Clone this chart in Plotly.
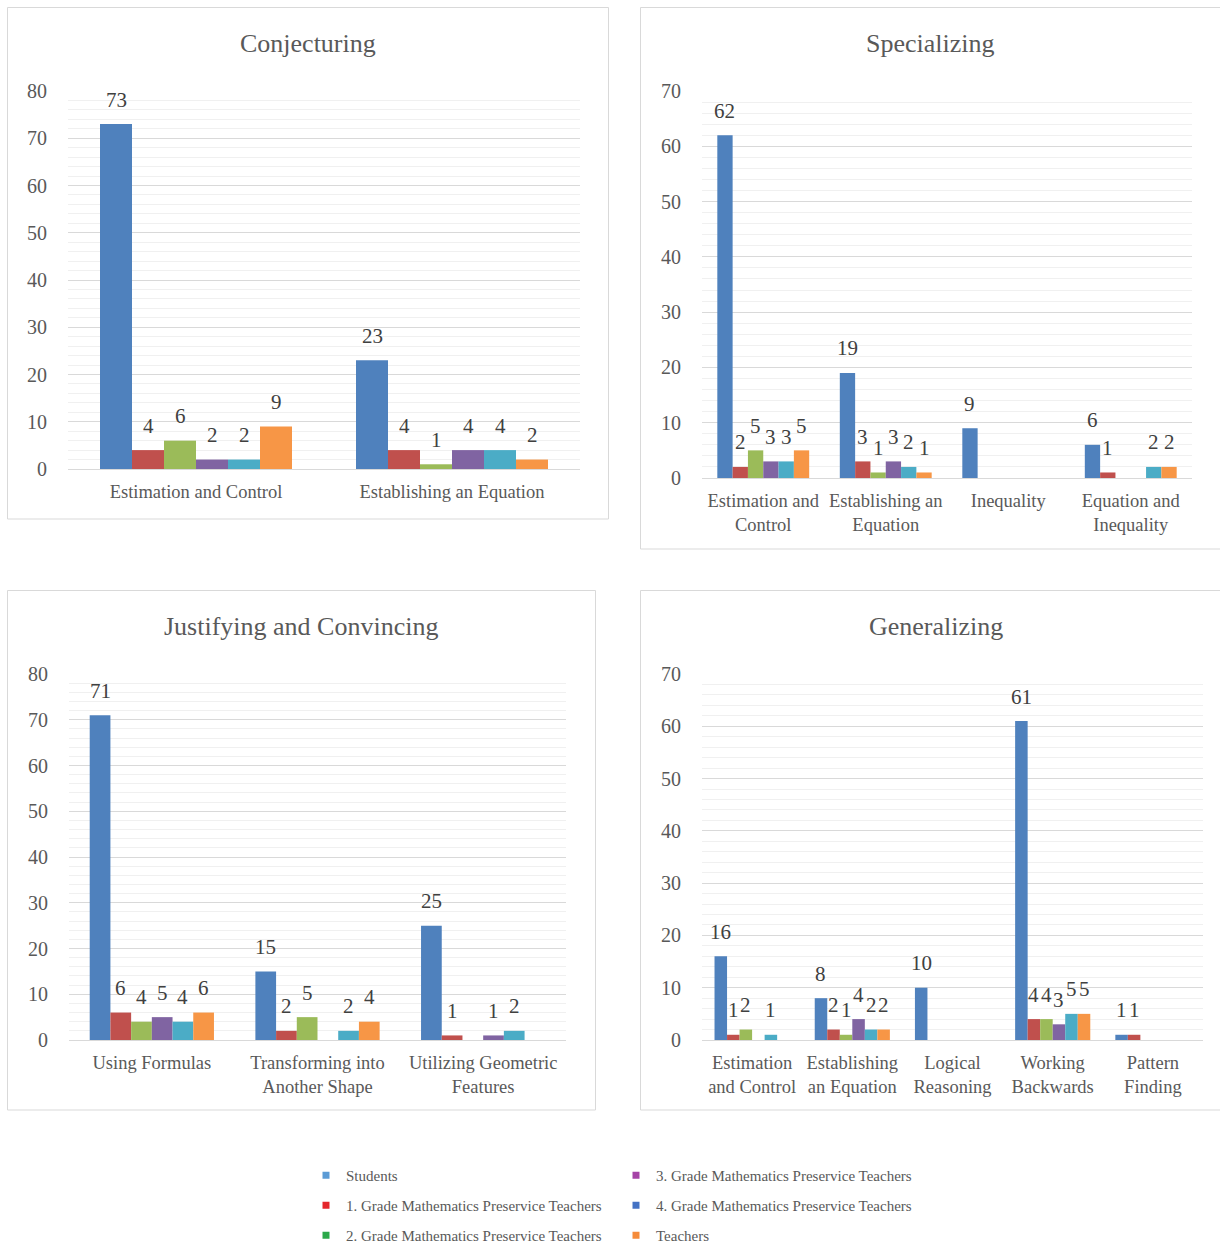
import plotly.graph_objects as go

W, H = 1220, 1246

# ---------------- data ----------------
series_names = [
    "Students",
    "1. Grade Mathematics Preservice Teachers",
    "2. Grade Mathematics Preservice Teachers",
    "3. Grade Mathematics Preservice Teachers",
    "4. Grade Mathematics Preservice Teachers",
    "Teachers",
]
bar_colors = ["#4F81BD", "#C0504D", "#9BBB59", "#8064A2", "#4BACC6", "#F79646"]
legend_colors = ["#5B9BD5", "#E4262C", "#2BA84A", "#A543A6", "#4472C4", "#F58B3A"]

conj_title = "Conjecturing"
conj_cats = ["Estimation and Control", "Establishing an Equation"]
conj_ticks = ["Estimation and Control", "Establishing an Equation"]
conj_values = [  # one list per series, in series_names order
    [73, 23],
    [4, 4],
    [6, 1],
    [2, 4],
    [2, 4],
    [9, 2],
]

spec_title = "Specializing"
spec_cats = ["Estimation and Control", "Establishing an Equation", "Inequality", "Equation and Inequality"]
spec_ticks = ["Estimation and<br>Control", "Establishing an<br>Equation", "Inequality", "Equation and<br>Inequality"]
spec_values = [
    [62, 19, 9, 6],
    [2, 3, None, 1],
    [5, 1, None, None],
    [3, 3, None, None],
    [3, 2, None, 2],
    [5, 1, None, 2],
]

just_title = "Justifying and Convincing"
just_cats = ["Using Formulas", "Transforming into Another Shape", "Utilizing Geometric Features"]
just_ticks = ["Using Formulas", "Transforming into<br>Another Shape", "Utilizing Geometric<br>Features"]
just_values = [
    [71, 15, 25],
    [6, 2, 1],
    [4, 5, None],
    [5, None, 1],
    [4, 2, 2],
    [6, 4, None],
]

gen_title = "Generalizing"
gen_cats = ["Estimation and Control", "Establishing an Equation", "Logical Reasoning",
            "Working Backwards", "Pattern Finding"]
gen_ticks = ["Estimation<br>and Control", "Establishing<br>an Equation", "Logical<br>Reasoning",
             "Working<br>Backwards", "Pattern<br>Finding"]
gen_values = [
    [16, 8, 10, 61, 1],
    [1, 2, None, 4, 1],
    [2, 1, None, 4, None],
    [None, 4, None, 3, None],
    [1, 2, None, 5, None],
    [None, 2, None, 5, None],
]

# ---------------- layout geometry (pixels) ----------------
panels = [
    dict(title=conj_title, cats=conj_cats, ticks=conj_ticks, values=conj_values, ymax=80,
         plot=(68, 580, 91, 469), box=(7.5, 608.5, 7.5, 519), title_xy=(308, 43)),
    dict(title=spec_title, cats=spec_cats, ticks=spec_ticks, values=spec_values, ymax=70,
         plot=(702, 1192, 91, 478), box=(640.5, 1230, 7.5, 549), title_xy=(931, 43)),
    dict(title=just_title, cats=just_cats, ticks=just_ticks, values=just_values, ymax=80,
         plot=(69, 566, 674, 1040), box=(7.5, 595.5, 590.5, 1110), title_xy=(301, 626)),
    dict(title=gen_title, cats=gen_cats, ticks=gen_ticks, values=gen_values, ymax=70,
         plot=(702, 1203, 674, 1040), box=(640.5, 1230, 590.5, 1110), title_xy=(936, 626)),
]

BARGAP = 0.25
SERIF = "Liberation Serif, Times New Roman, serif"
GRAY = "#595959"
nser = len(series_names)
slot = (1 - BARGAP) / nser

fig = go.Figure()
annotations = []
shapes = []
layout_axes = {}

for p_i, p in enumerate(panels):
    n = p_i + 1
    xa = "x" if n == 1 else f"x{n}"
    ya = "y" if n == 1 else f"y{n}"
    xkey = "xaxis" if n == 1 else f"xaxis{n}"
    ykey = "yaxis" if n == 1 else f"yaxis{n}"
    x0, x1, ytop, ybot = p["plot"]

    for s_i, (name, vals) in enumerate(zip(series_names, p["values"])):
        fig.add_trace(go.Bar(
            x=p["cats"], y=vals, name=name, xaxis=xa, yaxis=ya,
            marker=dict(color=bar_colors[s_i], line=dict(width=0)),
            showlegend=False, hoverinfo="x+y+name",
        ))
        for c_i, v in enumerate(vals):
            if v is None:
                continue
            annotations.append(dict(
                x=c_i + (s_i - (nser - 1) / 2) * slot, y=v, xref=xa, yref=ya,
                text=str(v), showarrow=False, yshift=24.5, yanchor="middle",
                font=dict(family=SERIF, size=21, color="#404040"),
            ))

    layout_axes[xkey] = dict(
        domain=[x0 / W, x1 / W], anchor=ya, type="category",
        categoryorder="array", categoryarray=p["cats"],
        tickmode="array", tickvals=p["cats"], ticktext=p["ticks"],
        showgrid=False, zeroline=False, showline=True, linecolor="#D9D9D9", linewidth=1,
        ticks="", ticklabelstandoff=6,
        tickfont=dict(family=SERIF, size=18.5, color=GRAY), fixedrange=True,
    )
    layout_axes[ykey] = dict(
        domain=[1 - ybot / H, 1 - ytop / H], anchor=xa, range=[0, p["ymax"]],
        dtick=10, tick0=0, showgrid=True, gridcolor="#D9D9D9", gridwidth=1,
        minor=dict(dtick=2, tick0=0, showgrid=True, gridcolor="#F0F0F0", gridwidth=1),
        zeroline=False, showline=False, ticks="", ticklabelstandoff=20,
        tickfont=dict(family=SERIF, size=20, color=GRAY), fixedrange=True,
    )

    tx, ty = p["title_xy"]
    annotations.append(dict(
        x=tx / W, y=1 - ty / H, xref="paper", yref="paper", text=p["title"],
        showarrow=False, xanchor="center", yanchor="middle",
        font=dict(family=SERIF, size=26, color=GRAY),
    ))
    bx0, bx1, by0, by1 = p["box"]
    shapes.append(dict(
        type="rect", xref="paper", yref="paper",
        x0=bx0 / W, x1=bx1 / W, y0=1 - by1 / H, y1=1 - by0 / H,
        line=dict(color="#D9D9D9", width=1), fillcolor="rgba(0,0,0,0)", layer="below",
    ))

# legend entries (legend colours as in the reference)
for s_i, name in enumerate(series_names):
    fig.add_trace(go.Scatter(
        x=[None], y=[None], mode="markers", name=name, xaxis="x", yaxis="y",
        marker=dict(symbol="square", size=7, color=legend_colors[s_i]),
        legend="legend" if s_i < 3 else "legend2", legendgroup=name,
        showlegend=True,
    ))

leg_common = dict(
    orientation="v", xanchor="left", yanchor="top", bgcolor="rgba(0,0,0,0)",
    font=dict(family=SERIF, size=15, color=GRAY), tracegroupgap=7.5, itemwidth=30,
    itemclick=False, itemdoubleclick=False,
)

fig.update_layout(
    width=W, height=H, margin=dict(l=0, r=0, t=0, b=0, autoexpand=False),
    paper_bgcolor="white", plot_bgcolor="white",
    barmode="group", bargap=BARGAP, bargroupgap=0,
    annotations=annotations, shapes=shapes,
    legend=dict(x=306 / W, y=1 - 1159 / H, **leg_common),
    legend2=dict(x=616 / W, y=1 - 1159 / H, **leg_common),
    **layout_axes,
)

fig.write_html("out.html")
